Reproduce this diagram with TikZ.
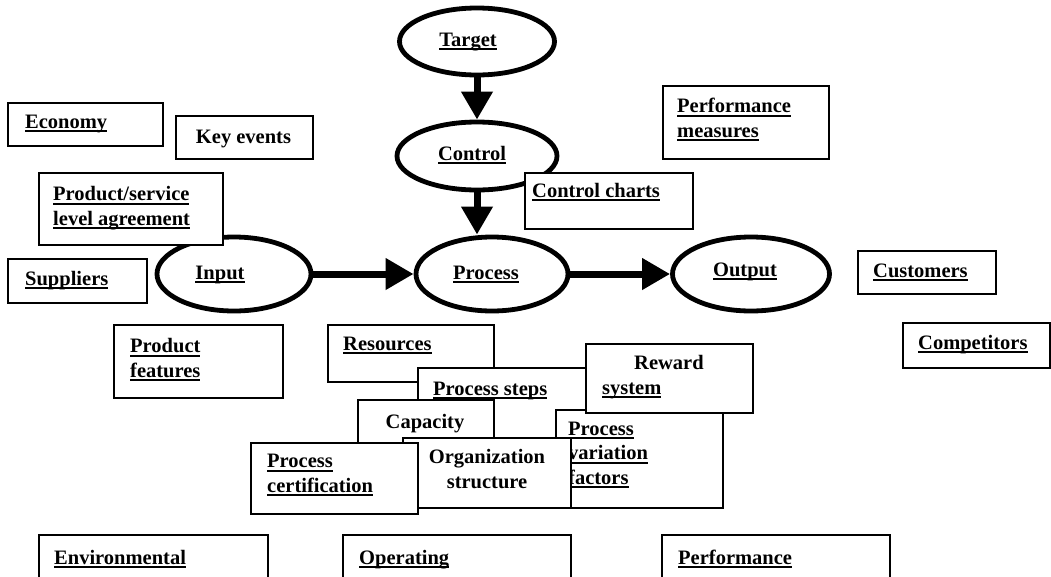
\documentclass[tikz,border=0pt]{standalone}
\usepackage{fontspec}
\setmainfont{Liberation Serif}
\usetikzlibrary{shapes.geometric,arrows.meta}
% underlined word with a heavy rule just below the baseline
\newcommand\ulin[1]{\setbox0=\hbox{#1}\rlap{\rule[-4pt]{\wd0}{2pt}}\box0}
% rectangular panel given by its top-left and bottom-right corners
\newcommand\panel[5]{\node[box, minimum width={(#4-#2)*1pt}, minimum height={(#5-#3)*1pt}] (#1) at (#2,#3) {};}
\begin{document}
\begin{tikzpicture}[x=1pt,y=-1pt,
  every node/.style={font=\fontsize{20.5}{24.5}\selectfont\bfseries},
  box/.style={draw, line width=2pt, fill=white, inner sep=0pt, anchor=north west},
  oval/.style={draw, ellipse, line width=4.8pt, fill=white, inner sep=0pt},
  txt/.style={inner sep=0pt, anchor=base west, align=left},
  ctxt/.style={inner sep=0pt, anchor=base, align=center},
  flow/.style={line width=7pt, -{Triangle[width=30pt,length=28pt]}}]

\useasboundingbox (0,0) rectangle (1051,576);
\clip (0,0) rectangle (1051,576);
\fill[white] (0,0) rectangle (1051,576);

% core flow
\node[oval, minimum width=155pt, minimum height=67pt] (target) at (477,41.5) {};
\node[ctxt] (target-t) at (468,46) {\ulin{Target}};
\node[oval, minimum width=160pt, minimum height=68pt] (control) at (477,156) {};
\node[ctxt] (control-t) at (472,160) {\ulin{Control}};
\node[oval, minimum width=154pt, minimum height=74pt] (input) at (234,274) {};
\node[ctxt] (input-t) at (220,279) {\ulin{Input}};
\node[oval, minimum width=152pt, minimum height=74pt] (process) at (492,274) {};
\node[ctxt] (process-t) at (486,279) {\ulin{Process}};
\node[oval, minimum width=157pt, minimum height=74pt] (output) at (751,274) {};
\node[ctxt] (output-t) at (745,276) {\ulin{Output}};

\draw[flow] (target) -- (control);
\draw[flow] (control.south) -- (control.south |- process.north);
\draw[flow] (input) -- (process);
\draw[flow] (process) -- (output);

% surrounding panels (multi-line texts are placed by their last line)
\panel{econ}{7}{102}{162}{145}
\node[txt] (econ-t) at (25,128) {\ulin{Economy}};
\panel{keyev}{175}{115}{312}{158}
\node[ctxt] (keyev-t) at (243.5,143) {Key events};
\panel{psla}{38}{172}{222}{244}
\node[txt] (psla-t) at (53,225) {\ulin{Product/service}\\\ulin{level agreement}};
\panel{suppl}{7}{258}{146}{302}
\node[txt] (suppl-t) at (25,285) {\ulin{Suppliers}};
\panel{cchart}{524}{172}{692}{228}
\node[txt] (cchart-t) at (532,197) {\ulin{Control charts}};
\panel{perfm}{662}{85}{828}{158}
\node[txt] (perfm-t) at (677,137) {\ulin{Performance}\\\ulin{measures}};
\panel{cust}{857}{250}{995}{293}
\node[txt] (cust-t) at (873,277) {\ulin{Customers}};
\panel{comp}{902}{322}{1049}{367}
\node[txt] (comp-t) at (918,349) {\ulin{Competitors}};
\panel{pfeat}{113}{324}{282}{397}
\node[txt] (pfeat-t) at (130,377) {\ulin{Product}\\\ulin{features}};

% stacked panels under the process
\panel{res}{327}{324}{493}{381}
\node[txt] (res-t) at (343,350) {\ulin{Resources}};
\panel{psteps}{417}{367}{640}{470}
\node[txt] (psteps-t) at (433,395) {\ulin{Process steps}};
\panel{cap}{357}{399}{493}{470}
\node[ctxt] (cap-t) at (425,428) {Capacity};
\panel{pvar}{555}{409}{722}{507}
\node[txt] (pvar-t) at (568,484) {\ulin{Process}\\\ulin{variation}\\\ulin{factors}};
\panel{reward}{585}{343}{752}{412}
\node[txt] (reward-t) at (602,394) {\hspace*{32pt}Reward\\\ulin{system}};
\panel{org}{402}{437}{570}{507}
\node[ctxt] (org-t) at (487,488) {Organization\\structure};
\panel{pcert}{250}{442}{417}{513}
\node[txt] (pcert-t) at (267,492) {\ulin{Process}\\\ulin{certification}};

% bottom row
\panel{env}{38}{534}{267}{600}
\node[txt] (env-t) at (54,564) {\ulin{Environmental}};
\panel{oper}{342}{534}{570}{600}
\node[txt] (oper-t) at (359,564) {\ulin{Operating}};
\panel{perf}{661}{534}{889}{600}
\node[txt] (perf-t) at (678,564) {\ulin{Performance}};
\end{tikzpicture}
\end{document}
